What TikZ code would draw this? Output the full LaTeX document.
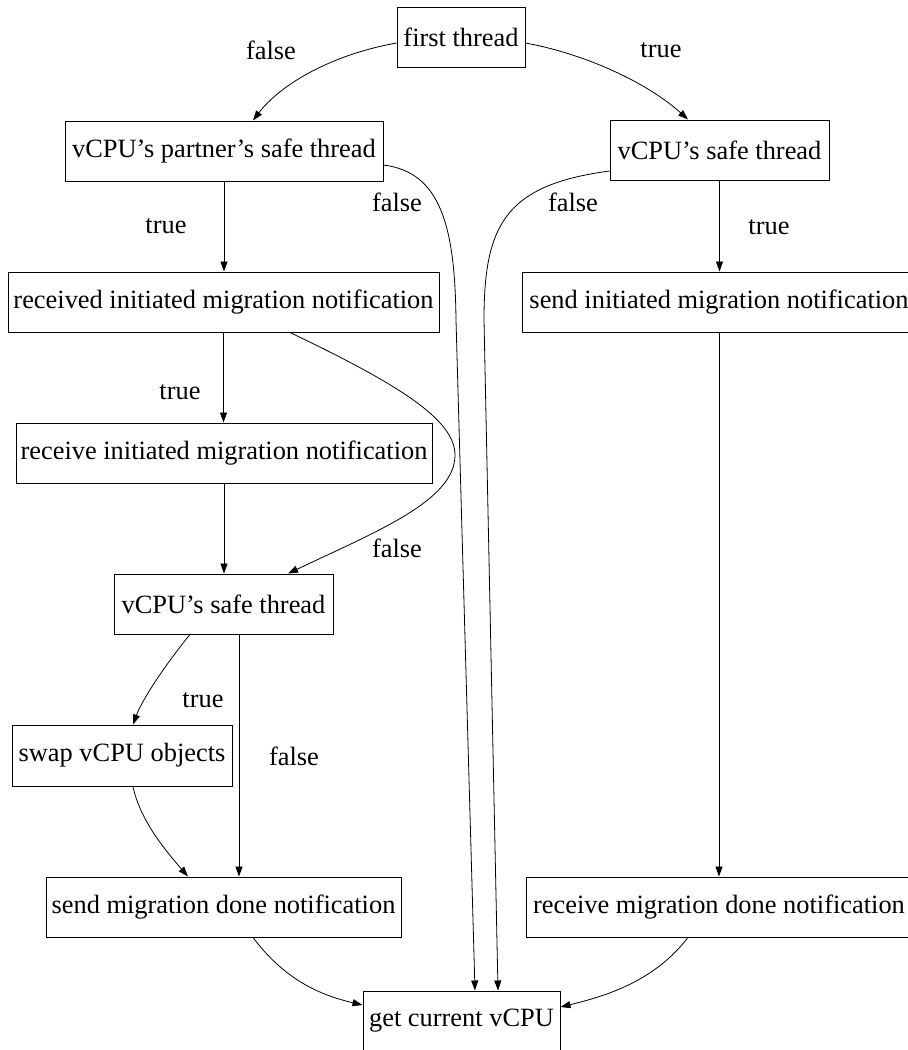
\documentclass[tikz,border=0pt]{standalone}
\usepackage{fontspec}
\setmainfont{Liberation Serif}
\usetikzlibrary{arrows.meta,calc}
\begin{document}
\begin{tikzpicture}[x=1pt,y=-1pt,
  box/.style={draw,line width=1pt,inner sep=0pt,minimum height=60pt,font=\fontsize{26.4}{30}\selectfont},
  lbl/.style={inner sep=0pt,font=\fontsize{26.4}{30}\selectfont},
  edge/.style={line width=0.8pt,-{Triangle[length=10pt,width=7pt]}}]
\fill[white] (0,0) rectangle (908,1050);
\clip (0,0) rectangle (908,1050);
\useasboundingbox (0,0) rectangle (908,1050);
\node[box,minimum width=128pt] (first) at (461,37) {first thread};
\node[box,minimum width=318pt] (partner) at (224,151) {vCPU’s partner’s safe thread};
\node[box,minimum width=219pt] (rv) at (719.5,150) {vCPU’s safe thread};
\node[box,minimum width=431pt] (received) at (223.5,302) {received initiated migration notification};
\node[box,minimum width=394pt] (sendinit) at (719,302) {send initiated migration notification};
\node[box,minimum width=416pt] (receive) at (224,453) {receive initiated migration notification};
\node[box,minimum width=219pt] (mid) at (223.5,604) {vCPU’s safe thread};
\node[box,minimum width=220pt,minimum height=61pt] (swap) at (122,755.5) {swap vCPU objects};
\node[box,minimum width=355pt] (senddone) at (223.5,907) {send migration done notification};
\node[box,minimum width=386pt] (recvdone) at (719,907) {receive migration done notification};
\node[box,minimum width=197pt] (get) at (461.5,1021) {get current vCPU};
% labels
\node[lbl] (l1) at (271,50) {false};
\node[lbl] (l2) at (661,50) {true};
\node[lbl] (l3) at (166,226) {true};
\node[lbl] (l4) at (397,202) {false};
\node[lbl] (l5) at (573,202) {false};
\node[lbl] (l6) at (769,227) {true};
\node[lbl] (l7) at (180,392) {true};
\node[lbl] (l8) at (397,548) {false};
\node[lbl] (l9) at (203,700) {true};
\node[lbl] (l10) at (294,756) {false};
% edges
\draw[edge] ($(first.west)+(0,6)$) .. controls (330,55) and (280,85) .. ($(partner.north)+(29,0)$);
\draw[edge] ($(first.east)+(0,6)$) .. controls (590,55) and (650,85) .. ($(rv.north)+(-31.5,0)$);
\draw[edge] (partner.south) -- (received.north -| partner.south);
\draw[edge] ($(partner.east)+(0,14)$) .. controls (440,172) and (455,225) .. (456,320) -- ($(get.north)+(13.5,0)$);
\draw[edge] ($(rv.west)+(0,21)$) .. controls (505,185) and (484,225) .. (484,320) -- ($(get.north)+(36.5,0)$);
\draw[edge] (rv.south) -- (sendinit.north -| rv.south);
\draw[edge] (sendinit.south) -- (recvdone.north);
\draw[edge] (received.south) -- (receive.north -| received.south);
\draw[edge] ($(received.south)+(66.5,0)$) .. controls (400,385) and (455,420) .. (455,455) .. controls (455,500) and (380,530) .. ($(mid.north)+(64.5,0)$);
\draw[edge] (receive.south) -- (mid.north -| receive.south);
\draw[edge] ($(mid.south)+(-33.5,0)$) .. controls (165,665) and (142,700) .. ($(swap.north)+(11,0)$);
\draw[edge] ($(mid.south)+(15.5,0)$) -- ($(senddone.north)+(15.5,0)$);
\draw[edge] ($(swap.south)+(11,0)$) .. controls (140,820) and (165,850) .. ($(senddone.north)+(-35.5,0)$);
\draw[edge] ($(senddone.south)+(29.5,0)$) .. controls (285,980) and (320,995) .. ($(get.west)+(0,-16)$);
\draw[edge] ($(recvdone.south)+(-31,0)$) .. controls (655,980) and (610,995) .. ($(get.east)+(0,-14)$);
\end{tikzpicture}
\end{document}
